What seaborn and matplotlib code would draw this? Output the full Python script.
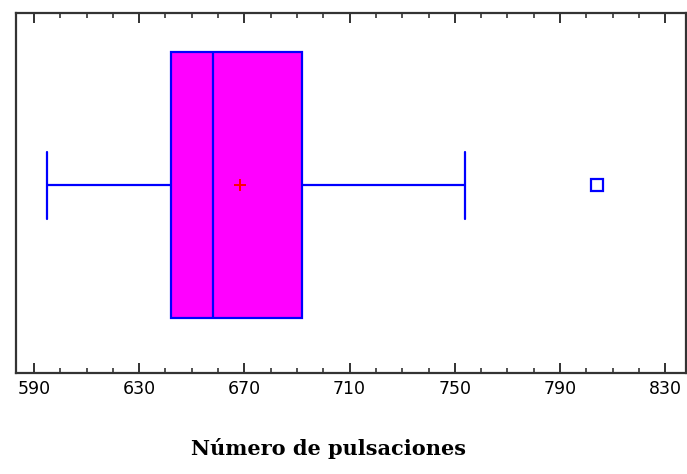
import matplotlib
matplotlib.use("Agg")
import matplotlib.pyplot as plt
import seaborn as sns
import pandas as pd
from matplotlib.ticker import MultipleLocator

# Pulse counts per sample
pulsaciones = [595, 605, 618, 628, 636, 642, 646, 650, 653, 656, 658,
               662, 667, 671, 680, 692, 698, 706, 718, 754, 804]
x_ticks = [590, 630, 670, 710, 750, 790, 830]
x_label = "Número de pulsaciones"

df = pd.DataFrame({"pulsaciones": pulsaciones})

sns.set_style("white")
fig = plt.figure(figsize=(6.87, 4.74), dpi=100)
ax = fig.add_axes([0.0233, 0.213, 0.975, 0.7595])

blue = "#0000FF"
sns.boxplot(
    data=df, x="pulsaciones", orient="y", ax=ax,
    width=0.74, capwidths=0.186,
    color="#FF00FF", linecolor=blue, linewidth=1.6,
    saturation=1, whis=1.5,
    showmeans=True,
    meanprops=dict(marker="+", markeredgecolor="#FF0000",
                   markersize=9, markeredgewidth=1.4),
    flierprops=dict(marker="s", markerfacecolor="none",
                    markeredgecolor=blue, markersize=8,
                    markeredgewidth=1.6),
)

ax.set_xlim(583.2, 837.8)
ax.set_ylim(0.522, -0.478)
ax.set_xticks(x_ticks)
ax.xaxis.set_minor_locator(MultipleLocator(10))
ax.set_yticks([])
ax.set_ylabel("")
ax.tick_params(axis="x", which="major", direction="in", length=7, width=1.3,
               top=True, bottom=True, color="#222222", labelsize=12.5,
               labelcolor="black", pad=5)
ax.tick_params(axis="x", which="minor", direction="in", length=3.5, width=1.1,
               top=True, bottom=True, color="#222222")
for s in ax.spines.values():
    s.set_visible(True)
    s.set_color("#333333")
    s.set_linewidth(1.6)

ax.set_xlabel(x_label, family="DejaVu Serif", fontweight="bold",
              fontsize=15, color="black", labelpad=0)
ax.xaxis.set_label_coords(0.466, -0.18)

fig.savefig("out.png", dpi=100, facecolor="white")
